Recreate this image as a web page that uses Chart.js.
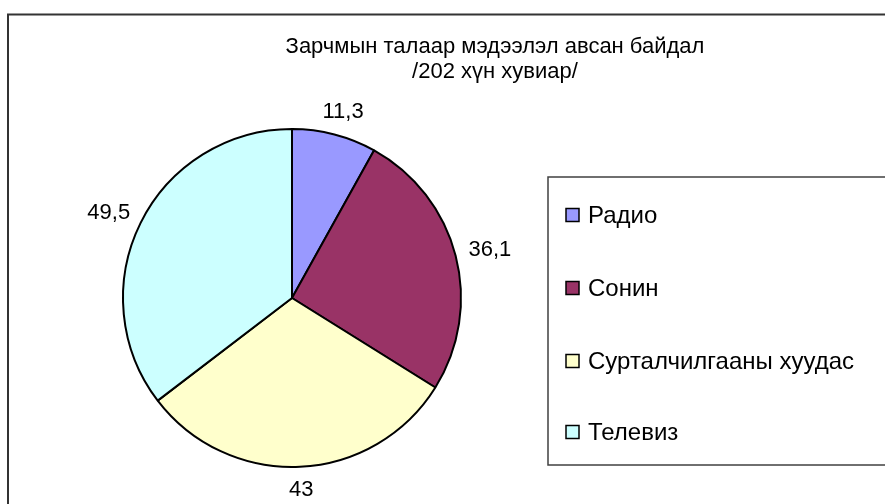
<!DOCTYPE html>
<html>
<head>
<meta charset="utf-8">
<script src="https://cdn.jsdelivr.net/npm/chart.js@4"></script>
<style>
  html, body { margin: 0; padding: 0; background: #fff; }
</style>
</head>
<body>
<canvas id="pieChart" width="885" height="504"></canvas>
<script>
const titleLines = ["Зарчмын талаар мэдээлэл авсан байдал", "/202 хүн хувиар/"];
const categories = ["Радио", "Сонин", "Сурталчилгааны хуудас", "Телевиз"];
const values = [11.3, 36.1, 43, 49.5];
const sliceColors = ["#9999FF", "#993366", "#FFFFCC", "#CCFFFF"];

const FONT = '"Liberation Sans", Arial, sans-serif';

// frame, title, legend box and value labels drawn on top of the pie
const decorations = {
  id: "decorations",
  afterDraw(chart) {
    const c = chart.ctx;
    c.save();

    // outer chart frame (cropped on right and bottom)
    c.strokeStyle = "#333333";
    c.lineWidth = 2;
    c.strokeRect(8, 14.5, 1000, 600);

    // title
    c.fillStyle = "#000";
    c.font = "22px " + FONT;
    c.textAlign = "center";
    c.textBaseline = "alphabetic";
    c.fillText(titleLines[0], 495, 53);
    c.fillText(titleLines[1], 495, 78);

    // legend box
    c.strokeStyle = "#404040";
    c.lineWidth = 1.5;
    c.strokeRect(548, 177, 400, 288);
    c.font = "24px " + FONT;
    c.textAlign = "left";
    c.textBaseline = "middle";
    const rowY = [215, 288, 361, 432];
    categories.forEach((name, i) => {
      c.fillStyle = sliceColors[i];
      c.fillRect(566, rowY[i] - 6.5, 13, 13);
      c.strokeStyle = "#000";
      c.lineWidth = 1.5;
      c.strokeRect(566, rowY[i] - 6.5, 13, 13);
      c.fillStyle = "#000";
      c.fillText(name, 588, rowY[i] + 1);
    });

    // value labels outside the slices
    const meta = chart.getDatasetMeta(0);
    c.font = "22px " + FONT;
    c.textAlign = "center";
    c.textBaseline = "middle";
    meta.data.forEach((arc, i) => {
      const mid = (arc.startAngle + arc.endAngle) / 2;
      const txt = String(values[i]).replace(".", ",");
      const hw = c.measureText(txt).width / 2;
      const hh = 9;
      const dx = Math.cos(mid), dy = Math.sin(mid);
      const r = arc.outerRadius + 14;
      c.fillStyle = "#000";
      c.fillText(txt, arc.x + dx * r + dx * hw, arc.y + dy * r + dy * hh);
    });

    c.restore();
  }
};

const pieChart = new Chart(document.getElementById("pieChart").getContext("2d"), {
  type: "pie",
  data: {
    labels: categories,
    datasets: [{
      data: values,
      backgroundColor: sliceColors,
      borderColor: "#000000",
      borderWidth: 2
    }]
  },
  options: {
    responsive: false,
    animation: false,
    events: [],
    layout: {
      padding: { left: 122, top: 128, right: 423, bottom: 36 }
    },
    plugins: {
      legend: { display: false },
      title: { display: false },
      tooltip: { enabled: false }
    }
  },
  plugins: [decorations]
});
</script>
</body>
</html>
